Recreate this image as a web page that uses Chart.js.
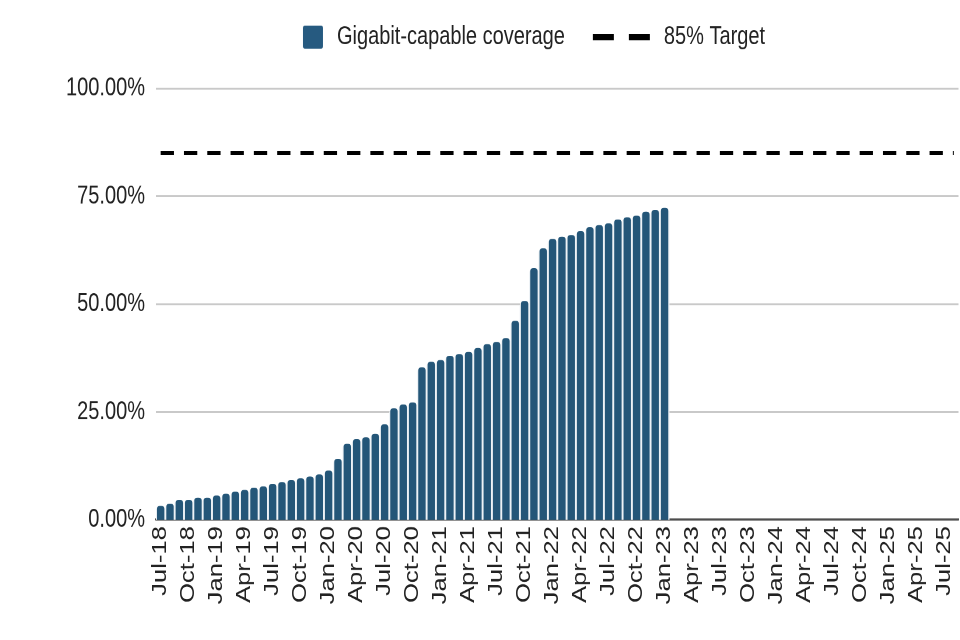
<!DOCTYPE html>
<html>
<head>
<meta charset="utf-8">
<script src="https://cdn.jsdelivr.net/npm/chart.js@4.4.0/dist/chart.umd.min.js"></script>
<style>
html, body { margin: 0; padding: 0; background: #ffffff; overflow: hidden; }
#frame { width: 960px; height: 640px; overflow: hidden; position: relative; }
#wrap { width: 960px; height: 500px; transform: scaleY(1.28); transform-origin: 0 0; }
</style>
</head>
<body>
<div id="frame"><div id="wrap"><canvas id="c"></canvas></div></div>
<script>
// ---- data ----
const categories = [
  'Jul-18','Aug-18','Sep-18','Oct-18','Nov-18','Dec-18',
  'Jan-19','Feb-19','Mar-19','Apr-19','May-19','Jun-19','Jul-19','Aug-19','Sep-19','Oct-19','Nov-19','Dec-19',
  'Jan-20','Feb-20','Mar-20','Apr-20','May-20','Jun-20','Jul-20','Aug-20','Sep-20','Oct-20','Nov-20','Dec-20',
  'Jan-21','Feb-21','Mar-21','Apr-21','May-21','Jun-21','Jul-21','Aug-21','Sep-21','Oct-21','Nov-21','Dec-21',
  'Jan-22','Feb-22','Mar-22','Apr-22','May-22','Jun-22','Jul-22','Aug-22','Sep-22','Oct-22','Nov-22','Dec-22',
  'Jan-23','Feb-23','Mar-23','Apr-23','May-23','Jun-23','Jul-23','Aug-23','Sep-23','Oct-23','Nov-23','Dec-23',
  'Jan-24','Feb-24','Mar-24','Apr-24','May-24','Jun-24','Jul-24','Aug-24','Sep-24','Oct-24','Nov-24','Dec-24',
  'Jan-25','Feb-25','Mar-25','Apr-25','May-25','Jun-25','Jul-25','Aug-25'
];
const coverageLabel = 'Gigabit-capable coverage';
const coverage = [
  3.2, 3.7, 4.6, 4.6, 5.1, 5.1,
  5.6, 6.0, 6.5, 6.9, 7.4, 7.7, 8.3, 8.7, 9.2, 9.6, 10.0, 10.5,
  11.4, 14.1, 17.6, 18.7, 19.1, 19.9, 22.1, 25.8, 26.7, 27.2, 35.3, 36.6,
  37.0, 38.0, 38.4, 38.9, 39.8, 40.7, 41.2, 42.1, 46.1, 50.7, 58.3, 62.9,
  65.1, 65.6, 66.0, 66.9, 67.8, 68.3, 68.7, 69.6, 70.1, 70.5, 71.4, 71.8,
  72.3
];
const targetLabel = '85% Target';
const targetStart = 'Jul-18';
const targetEnd = 'Aug-25';
const targetValue = 85;
const yTickLabels = ['0.00%', '25.00%', '50.00%', '75.00%', '100.00%'];
const xTickEvery = 3;

// ---- styles ----
const FONT = "'Liberation Sans', Arial, sans-serif";
const BAR_COLOR = '#245678';
const TEXT_COLOR = '#222222';

function makeIcon(w, h, draw, onload) {
  const s = 2;
  const c = document.createElement('canvas');
  c.width = w * s; c.height = h * s;
  const g = c.getContext('2d');
  g.scale(s, s);
  draw(g);
  const img = new Image();
  img.width = w; img.height = h;
  img.onload = onload;
  img.src = c.toDataURL();
  return img;
}

let loaded = 0;
function ready() { loaded++; if (loaded === 2) build(); }

const barIcon = makeIcon(70, 20, g => {
  g.fillStyle = '#265a80';
  g.beginPath();
  if (g.roundRect) g.roundRect(46, 1, 20, 18, 2); else g.rect(46, 1, 20, 18);
  g.fill();
}, ready);
const lineIcon = makeIcon(70, 20, g => {
  g.fillStyle = '#000000';
  g.fillRect(9, 7.5, 21, 5);
  g.fillRect(45, 7.5, 21, 5);
}, ready);
const icons = [barIcon, lineIcon];

const legendGap = {
  id: 'legendGap',
  beforeInit(chart) {
    const orig = chart.legend.fit;
    chart.legend.fit = function () { orig.call(this); this.height += 20; };
  }
};

function build() {
  new Chart(document.getElementById('c'), {
    type: 'bar',
    data: {
      labels: categories,
      datasets: [
        {
          label: coverageLabel,
          data: coverage,
          backgroundColor: BAR_COLOR,
          borderColor: '#edf2f6',
          borderWidth: { left: 1.3, right: 1.3, top: 0, bottom: 0 },
          borderRadius: { topLeft: 4, topRight: 4 },
          borderSkipped: 'start',
          barPercentage: 1,
          categoryPercentage: 1,
          base: -0.3,
          order: 2
        },
        {
          type: 'line',
          label: targetLabel,
          data: [{ x: targetStart, y: targetValue }, { x: targetEnd, y: targetValue }],
          borderColor: '#000000',
          borderWidth: 3,
          borderDash: [13.3, 10],
          pointRadius: 0,
          pointHoverRadius: 0,
          fill: false,
          order: 1
        }
      ]
    },
    options: {
      responsive: true,
      maintainAspectRatio: false,
      animation: false,
      devicePixelRatio: 2,
      layout: { padding: { left: 62, right: 0, top: 0, bottom: 0 } },
      plugins: {
        tooltip: { enabled: false },
        legend: {
          position: 'top',
          align: 'center',
          fullSize: true,
          labels: {
            usePointStyle: true,
            pointStyleWidth: 70,
            boxHeight: 20,
            padding: 19,
            color: TEXT_COLOR,
            font: { family: FONT, size: 20 },
            sort: (a, b) => a.datasetIndex - b.datasetIndex,
            generateLabels(chart) {
              const items = Chart.defaults.plugins.legend.labels.generateLabels(chart);
              items.forEach(it => { it.pointStyle = icons[it.datasetIndex]; });
              return items;
            }
          }
        }
      },
      scales: {
        x: {
          offset: true,
          grid: { display: false, drawTicks: false },
          border: { display: true, color: '#4d4d4d', width: 1.6 },
          ticks: {
            autoSkip: false,
            maxRotation: 90,
            minRotation: 90,
            padding: 5,
            color: TEXT_COLOR,
            font: { family: FONT, size: 20 },
            callback: function (v, i) { return i % xTickEvery === 0 ? categories[i] : ''; }
          },
          afterFit(s) { s.height = 94; s.paddingLeft = 0; s.paddingRight = 0; }
        },
        y: {
          min: 0,
          max: 100,
          grid: { color: '#c9c9c9', lineWidth: 1.5, drawTicks: false },
          border: { display: false },
          ticks: {
            stepSize: 25,
            padding: 11,
            color: TEXT_COLOR,
            font: { family: FONT, size: 20 },
            callback: (v, i) => yTickLabels[i]
          },
          afterFit(s) { s.width = 94; }
        }
      }
    },
    plugins: [legendGap]
  });
}
</script>
</body>
</html>
